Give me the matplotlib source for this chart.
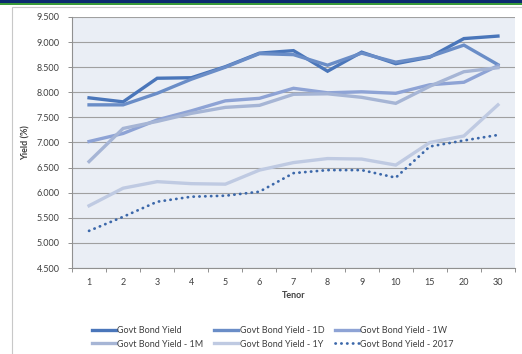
import matplotlib
matplotlib.use("Agg")
import matplotlib.pyplot as plt
from matplotlib.patches import Rectangle
import numpy as np

plt.rcParams['font.family'] = ['Lato', 'DejaVu Sans']

tenors = ['1', '2', '3', '4', '5', '6', '7', '8', '9', '10', '15', '20', '30']
yield_now = [7.89, 7.81, 8.28, 8.29, 8.51, 8.78, 8.83, 8.42, 8.80, 8.57, 8.70, 9.07, 9.12]
yield_1d = [7.75, 7.75, 7.98, 8.26, 8.50, 8.77, 8.75, 8.54, 8.78, 8.60, 8.71, 8.94, 8.55]
yield_1w = [7.02, 7.18, 7.45, 7.63, 7.83, 7.88, 8.08, 7.99, 8.01, 7.98, 8.15, 8.20, 8.53]
yield_1m = [6.62, 7.28, 7.42, 7.58, 7.70, 7.74, 7.96, 7.97, 7.90, 7.78, 8.12, 8.41, 8.49]
yield_1y = [5.74, 6.09, 6.22, 6.18, 6.17, 6.45, 6.60, 6.68, 6.67, 6.55, 7.00, 7.13, 7.75]
yield_2017 = [5.24, 5.52, 5.82, 5.92, 5.94, 6.02, 6.39, 6.45, 6.45, 6.30, 6.92, 7.04, 7.15]

series_names = ['Govt Bond Yield', 'Govt Bond Yield - 1D', 'Govt Bond Yield - 1W',
                'Govt Bond Yield - 1M', 'Govt Bond Yield - 1Y', 'Govt Bond Yield - 2017']

W, H = 522, 354
fig = plt.figure(figsize=(W / 100, H / 100), dpi=100)

# header band and chart frame
fig.patches.append(Rectangle((0, 1 - 3.5 / H), 1, 3.5 / H, transform=fig.transFigure,
                             facecolor='#0B2A6E', edgecolor='none', zorder=0))
fig.patches.append(Rectangle((0, 1 - 4.6 / H), 1, 1.1 / H, transform=fig.transFigure,
                             facecolor='#3A9A3A', edgecolor='none', zorder=0))
fig.patches.append(Rectangle((12 / W, -0.05), 1.0, 1 - 7 / H + 0.05, transform=fig.transFigure,
                             facecolor='none', edgecolor='#C8C8C8', linewidth=0.8, zorder=0))

ax = fig.add_axes([72 / W, (H - 268) / H, (515 - 72) / W, (268 - 17) / H])
ax.set_facecolor('#EAEEF5')

x = np.arange(len(tenors))
styles = [
    (yield_now, '#4A76BA', 2.4, '-'),
    (yield_1d, '#6A8DC7', 2.4, '-'),
    (yield_1w, '#8EA3D5', 2.4, '-'),
    (yield_1m, '#A6B5D5', 2.4, '-'),
    (yield_1y, '#BFCAE2', 2.4, '-'),
]
handles = []
for (vals, col, lw, ls), name in zip(styles, series_names[:5]):
    h, = ax.plot(x, vals, color=col, lw=lw, ls=ls, solid_joinstyle='miter', label=name, zorder=3)
    handles.append(h)
h, = ax.plot(x, yield_2017, color='#3C68AA', lw=2.0, ls=(0, (0.1, 2.0)),
             dash_capstyle='round', label=series_names[5], zorder=4)
handles.append(h)

ax.set_xlim(-0.5, len(tenors) - 0.5)
ax.set_ylim(4.5, 9.5)
ax.set_yticks(np.arange(4.5, 9.51, 0.5))
ax.set_yticklabels([f'{v:.3f}' for v in np.arange(4.5, 9.51, 0.5)])
ax.set_xticks(x)
ax.set_xticklabels(tenors)
ax.set_xticks(np.arange(-0.5, len(tenors), 1.0), minor=True)
ax.tick_params(axis='x', which='major', length=0, labelsize=6.5, colors='#404040', pad=7)
ax.tick_params(axis='x', which='minor', length=3, color='#909090', width=0.7)
ax.tick_params(axis='y', which='major', length=3, color='#909090', width=0.7,
               labelsize=6.5, labelcolor='#404040', pad=6)
ax.grid(axis='y', color='#A0A0A0', lw=0.8, zorder=1)
for s in ['top', 'right']:
    ax.spines[s].set_visible(False)
for s in ['left', 'bottom']:
    ax.spines[s].set_color('#909090')
    ax.spines[s].set_linewidth(0.8)

ax.set_xlabel('Tenor', fontsize=6.5, fontweight='bold', color='#404040', labelpad=3)
ax.set_ylabel('Yield (%)', fontsize=6.5, fontweight='bold', color='#404040', labelpad=4)

order = [0, 3, 1, 4, 2, 5]
fig.legend([handles[i] for i in order], [series_names[i] for i in order],
           loc='upper left', bbox_to_anchor=(84 / W, 1 - 318 / H), ncol=3, frameon=False,
           fontsize=6.5, handlelength=2.6, handletextpad=0.2, columnspacing=1.2,
           labelspacing=0.5, labelcolor='#404040')

fig.savefig('out.png', dpi=100)
